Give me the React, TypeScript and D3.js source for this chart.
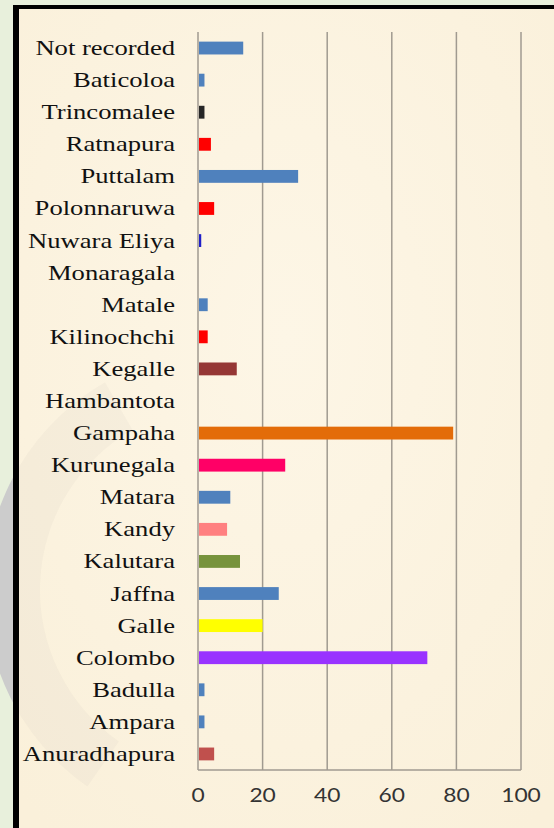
import * as d3 from "d3";

// districts, top to bottom
const districts = [
  "Not recorded", "Baticoloa", "Trincomalee", "Ratnapura", "Puttalam",
  "Polonnaruwa", "Nuwara Eliya", "Monaragala", "Matale", "Kilinochchi",
  "Kegalle", "Hambantota", "Gampaha", "Kurunegala", "Matara", "Kandy",
  "Kalutara", "Jaffna", "Galle", "Colombo", "Badulla", "Ampara", "Anuradhapura",
];
const counts = [14, 2, 2, 4, 31, 5, 1, 0, 3, 3, 12, 0, 79, 27, 10, 9, 13, 25, 20, 71, 2, 2, 5];
const barColors = [
  "#4F81BD", "#4F81BD", "#262626", "#FF0000", "#4F81BD",
  "#FF0000", "#1F1FC8", "#4F81BD", "#4F81BD", "#FF0000",
  "#953735", "#4F81BD", "#E36C09", "#FF0066", "#4F81BD", "#FF8080",
  "#77933C", "#4F81BD", "#FFFF00", "#9933FF", "#4F81BD", "#4F81BD", "#C0504D",
];
const xTicks = [0, 20, 40, 60, 80, 100];

const W = 554;
const H = 828;
const plot = { left: 198, right: 521, top: 32, bottom: 770 };

export default function App() {
  const x = d3.scaleLinear().domain([0, 100]).range([plot.left, plot.right]);
  const y = d3
    .scaleBand()
    .domain(districts)
    .range([plot.top, plot.bottom])
    .paddingInner(0.6)
    .paddingOuter(0.3);

  // faint watermark ring on the left
  const ring = d3
    .arc()
    .innerRadius(185)
    .outerRadius(240)
    .startAngle((215 * Math.PI) / 180)
    .endAngle((330 * Math.PI) / 180);
  const ringPath = ring({} as any) as string;

  return (
    <svg
      width={W}
      height={H}
      style={{ position: "absolute", left: 0, top: 0, display: "block" }}
    >
      <defs>
        <clipPath id="outside">
          <rect x={0} y={0} width={13} height={H} />
        </clipPath>
        <clipPath id="inside">
          <rect x={19} y={9} width={W} height={H} />
        </clipPath>
        <radialGradient id="paper" cx="50%" cy="40%" r="75%">
          <stop offset="0%" stopColor="#FDF6E6" />
          <stop offset="100%" stopColor="#FAF0DA" />
        </radialGradient>
      </defs>

      <rect x={0} y={0} width={W} height={H} fill="#E8F0DC" />
      <g clipPath="url(#outside)">
        <path d={ringPath} fill="#CCCCCC" transform="translate(225,590)" />
      </g>

      {/* framed panel: black only on top and left */}
      <rect x={13} y={5} width={W - 13} height={H - 5} fill="#000" />
      <rect x={19} y={9} width={W - 19} height={H - 9} fill="url(#paper)" />
      <g clipPath="url(#inside)">
        <path d={ringPath} fill="#9A9A9A" opacity={0.06} transform="translate(225,590)" />
      </g>

      {/* vertical gridlines */}
      {xTicks.map((t) => (
        <line
          key={t}
          x1={x(t)}
          x2={x(t)}
          y1={plot.top}
          y2={plot.bottom}
          stroke="#A09A90"
          strokeWidth={1.5}
        />
      ))}
      <line
        x1={plot.left}
        x2={plot.right}
        y1={plot.bottom}
        y2={plot.bottom}
        stroke="#A09A90"
        strokeWidth={1.5}
      />

      {/* bars */}
      {districts.map((d, i) => (
        <rect
          key={d}
          x={x(0) + 1}
          y={y(d)!}
          width={Math.max(0, x(counts[i]) - x(0) - 1)}
          height={y.bandwidth()}
          fill={barColors[i]}
        />
      ))}

      {/* category labels */}
      {districts.map((d) => (
        <text
          key={d}
          transform={`translate(175,${y(d)! + y.bandwidth() / 2 + 7}) scale(1.21,1)`}
          textAnchor="end"
          fontFamily="'Liberation Serif', 'Times New Roman', serif"
          fontSize={22}
          fill="#111"
        >
          {d}
        </text>
      ))}

      {/* x tick labels */}
      {xTicks.map((t) => (
        <text
          key={t}
          transform={`translate(${x(t)},802) scale(1.2,1)`}
          textAnchor="middle"
          fontFamily="Lato, 'Open Sans', sans-serif"
          fontSize={19}
          fill="#333"
        >
          {t}
        </text>
      ))}
    </svg>
  );
}
